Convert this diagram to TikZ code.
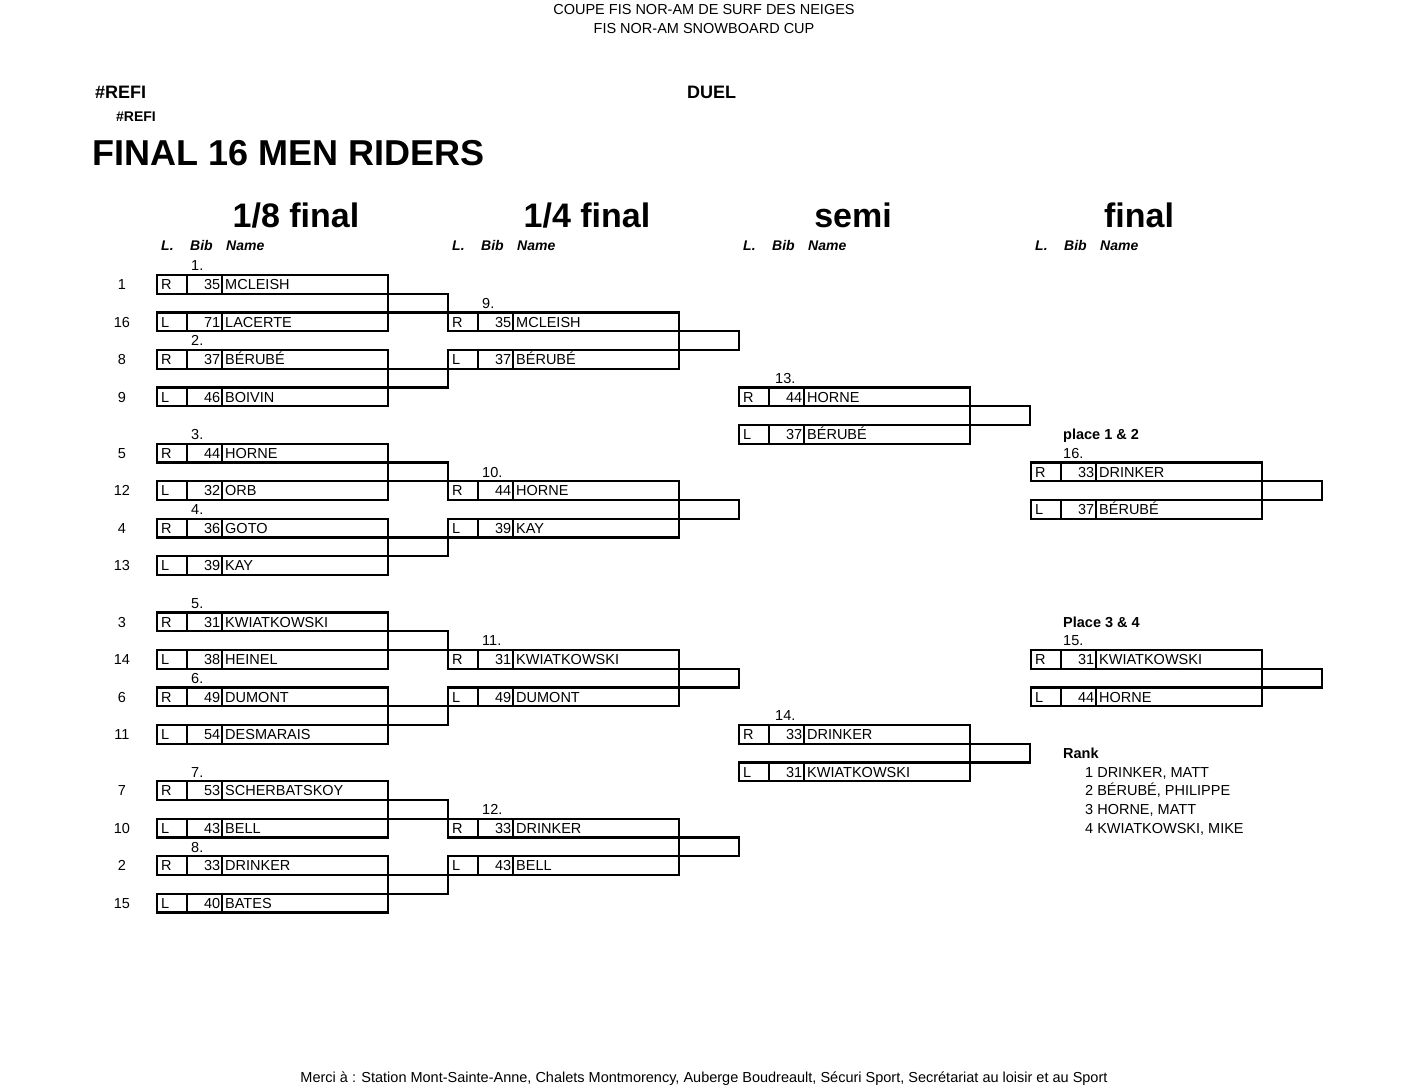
\documentclass[tikz,border=0pt]{standalone}
\usepackage{fontspec}
\setmainfont{Liberation Sans}
\begin{document}
\begin{tikzpicture}[x=1pt,y=-1pt,
  pbox/.style={draw,line width=2.2pt,minimum width=231pt,minimum height=18.75pt,inner sep=0pt,outer sep=0pt,anchor=west},
  divl/.style={line width=1.2pt},
  cline/.style={draw,line width=2.2pt},
  txt/.style={inner sep=0pt,font=\fontsize{14.5}{16}\selectfont},
  btxt/.style={inner sep=0pt,font=\fontsize{14.5}{16}\selectfont\bfseries},
  hdr/.style={inner sep=0pt,font=\fontsize{14}{16}\selectfont\bfseries\itshape,anchor=base west},
  rtitle/.style={inner sep=0pt,font=\fontsize{34}{38}\selectfont\bfseries,anchor=base}
]
\path[use as bounding box] (0,0) rectangle (1408,1088);
\newcommand\pl[6]{%
  \pgfmathsetmacro\yc{284.4+18.75*#3}%
  \node[pbox] (#1) at (#2,\yc) {};
  \draw[divl] ([xshift=30pt]#1.north west) -- ([xshift=30pt]#1.south west);
  \draw[divl] ([xshift=65pt]#1.north west) -- ([xshift=65pt]#1.south west);
  \node[txt,anchor=base west] (#1-l) at ([xshift=4pt,yshift=-5.2pt]#1.west) {#4};
  \node[txt,anchor=base east] (#1-b) at ([xshift=63.5pt,yshift=-5.2pt]#1.west) {#5};
  \node[txt,anchor=base west] (#1-n) at ([xshift=68pt,yshift=-5.2pt]#1.west) {#6};
}
\newcommand\seed[3]{%
  \pgfmathsetmacro\yc{284.4+18.75*#2+5.2}%
  \node[txt,anchor=base] (#1) at (122,\yc) {#3};
}
\newcommand\mlab[4]{%
  \pgfmathsetmacro\yc{284.4+18.75*#3+5.2}%
  \node[txt,anchor=base west] (#1) at (#2,\yc) {#4};
}
\newcommand\conn[2]{\draw[cline] (#1.south east) rectangle ([xshift=60pt]#2.north east);}
% header texts
\node[txt,anchor=base] (h1) at (704,14) {COUPE FIS NOR-AM DE SURF DES NEIGES};
\node[txt,anchor=base] (h2) at (704,33) {FIS NOR-AM SNOWBOARD CUP};
\node[inner sep=0pt,font=\fontsize{18}{20}\selectfont\bfseries,anchor=base west] (refi) at (95,98) {\#REFI};
\node[inner sep=0pt,font=\fontsize{18}{20}\selectfont\bfseries,anchor=base west] (duel) at (687,98) {DUEL};
\node[inner sep=0pt,font=\fontsize{14}{16}\selectfont\bfseries,anchor=base west] (refi2) at (116,121) {\#REFI};
\node[inner sep=0pt,font=\fontsize{36}{40}\selectfont\bfseries,anchor=base west] (title) at (92,165) {FINAL 16 MEN RIDERS};
% round titles
\node[rtitle] (t1) at (296,227) {1/8 final};
\node[rtitle] (t2) at (587,227) {1/4 final};
\node[rtitle] (t3) at (853,227) {semi};
\node[rtitle] (t4) at (1139,227) {final};
\foreach \x/\i in {157/1,448/2,739/3,1031/4}{
  \node[hdr] (hl\i) at (\x+4,250) {L.};
  \node[hdr] (hb\i) at (\x+33,250) {Bib};
  \node[hdr] (hn\i) at (\x+69,250) {Name};
}
% round 1
\pl{a1}{157}{0}{R}{35}{MCLEISH}
\pl{a2}{157}{2}{L}{71}{LACERTE}
\pl{a3}{157}{4}{R}{37}{BÉRUBÉ}
\pl{a4}{157}{6}{L}{46}{BOIVIN}
\pl{a5}{157}{9}{R}{44}{HORNE}
\pl{a6}{157}{11}{L}{32}{ORB}
\pl{a7}{157}{13}{R}{36}{GOTO}
\pl{a8}{157}{15}{L}{39}{KAY}
\pl{a9}{157}{18}{R}{31}{KWIATKOWSKI}
\pl{a10}{157}{20}{L}{38}{HEINEL}
\pl{a11}{157}{22}{R}{49}{DUMONT}
\pl{a12}{157}{24}{L}{54}{DESMARAIS}
\pl{a13}{157}{27}{R}{53}{SCHERBATSKOY}
\pl{a14}{157}{29}{L}{43}{BELL}
\pl{a15}{157}{31}{R}{33}{DRINKER}
\pl{a16}{157}{33}{L}{40}{BATES}
\seed{s1}{0}{1}\seed{s2}{2}{16}\seed{s3}{4}{8}\seed{s4}{6}{9}
\seed{s5}{9}{5}\seed{s6}{11}{12}\seed{s7}{13}{4}\seed{s8}{15}{13}
\seed{s9}{18}{3}\seed{s10}{20}{14}\seed{s11}{22}{6}\seed{s12}{24}{11}
\seed{s13}{27}{7}\seed{s14}{29}{10}\seed{s15}{31}{2}\seed{s16}{33}{15}
\mlab{m1}{191}{-1}{1.}\mlab{m2}{191}{3}{2.}\mlab{m3}{191}{8}{3.}\mlab{m4}{191}{12}{4.}
\mlab{m5}{191}{17}{5.}\mlab{m6}{191}{21}{6.}\mlab{m7}{191}{26}{7.}\mlab{m8}{191}{30}{8.}
\conn{a1}{a2}\conn{a3}{a4}\conn{a5}{a6}\conn{a7}{a8}
\conn{a9}{a10}\conn{a11}{a12}\conn{a13}{a14}\conn{a15}{a16}
% round 2
\pl{b1}{448}{2}{R}{35}{MCLEISH}
\pl{b2}{448}{4}{L}{37}{BÉRUBÉ}
\pl{b3}{448}{11}{R}{44}{HORNE}
\pl{b4}{448}{13}{L}{39}{KAY}
\pl{b5}{448}{20}{R}{31}{KWIATKOWSKI}
\pl{b6}{448}{22}{L}{49}{DUMONT}
\pl{b7}{448}{29}{R}{33}{DRINKER}
\pl{b8}{448}{31}{L}{43}{BELL}
\mlab{m9}{482}{1}{9.}\mlab{m10}{482}{10}{10.}\mlab{m11}{482}{19}{11.}\mlab{m12}{482}{28}{12.}
\conn{b1}{b2}\conn{b3}{b4}\conn{b5}{b6}\conn{b7}{b8}
% semi
\pl{c1}{739}{6}{R}{44}{HORNE}
\pl{c2}{739}{8}{L}{37}{BÉRUBÉ}
\pl{c3}{739}{24}{R}{33}{DRINKER}
\pl{c4}{739}{26}{L}{31}{KWIATKOWSKI}
\mlab{m13}{775}{5}{13.}\mlab{m14}{775}{23}{14.}
\conn{c1}{c2}\conn{c3}{c4}
% final
\pl{d1}{1031}{10}{R}{33}{DRINKER}
\pl{d2}{1031}{12}{L}{37}{BÉRUBÉ}
\pl{d3}{1031}{20}{R}{31}{KWIATKOWSKI}
\pl{d4}{1031}{22}{L}{44}{HORNE}
\mlab{m16}{1063}{9}{16.}\mlab{m15}{1063}{19}{15.}
\pgfmathsetmacro\yp{284.4+18.75*8+5.2}
\node[btxt,anchor=base west] (p12) at (1063,\yp) {place 1 \& 2};
\pgfmathsetmacro\yp{284.4+18.75*18+5.2}
\node[btxt,anchor=base west] (p34) at (1063,\yp) {Place 3 \& 4};
\conn{d1}{d2}\conn{d3}{d4}
% rank
\pgfmathsetmacro\yp{284.4+18.75*25+5.2}
\node[btxt,anchor=base west] (rank) at (1063,\yp) {Rank};
\mlab{r1}{1085}{26}{1 DRINKER, MATT}
\mlab{r2}{1085}{27}{2 BÉRUBÉ, PHILIPPE}
\mlab{r3}{1085}{28}{3 HORNE, MATT}
\mlab{r4}{1085}{29}{4 KWIATKOWSKI, MIKE}
% footer
\node[txt,anchor=base] (foot) at (704,1082) {Merci à : Station Mont-Sainte-Anne, Chalets Montmorency, Auberge Boudreault, Sécuri Sport, Secrétariat au loisir et au Sport};
\end{tikzpicture}
\end{document}
